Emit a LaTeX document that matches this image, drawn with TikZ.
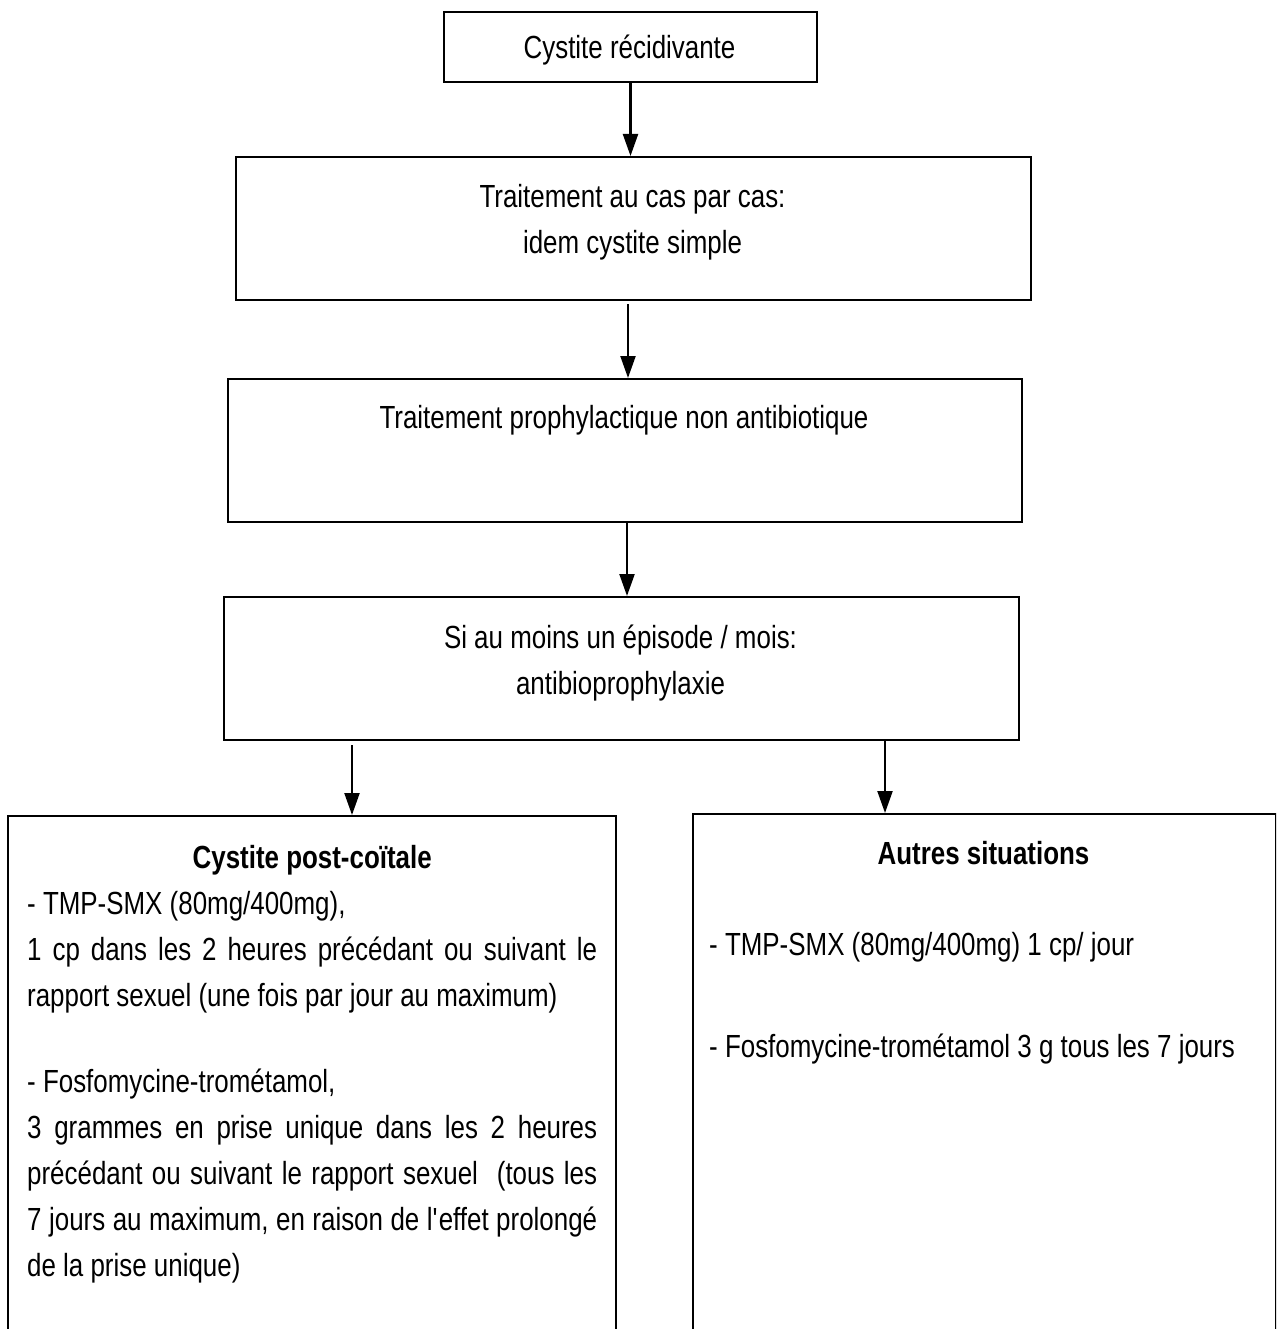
\documentclass[tikz,border=0pt]{standalone}
\usepackage{fontspec}
\setmainfont{Liberation Sans}[FakeStretch=0.81]
\usetikzlibrary{arrows.meta}
% fixed first-line height so that node tops sit at a known distance above the baseline
\newcommand\lnstrut{\rule{0pt}{24pt}}
% condensed text with matching interword glue
\newcommand\boxfont{\fontsize{32}{46}\selectfont\frenchspacing
  \spaceskip=7.2pt plus 6pt minus 1.5pt\relax}
\begin{document}
\begin{tikzpicture}[x=1pt,y=-1pt,
  box/.style={draw=black, line width=2pt, rectangle, inner sep=0pt, anchor=north west},
  txt/.style={inner sep=0pt, anchor=north, align=center, font=\boxfont},
  body/.style={inner sep=0pt, anchor=north west, align=left, font=\boxfont},
  arr/.style={line width=2.2pt, -{Triangle[length=22pt,width=15pt]}},
]
\useasboundingbox (0,0) rectangle (1276,1329);
\fill[white] (0,0) rectangle (1276,1329);
\clip (0,0) rectangle (1276,1329);

% boxes
\node[box, minimum width=373pt, minimum height=70pt]  (b1) at (443,11) {};
\node[box, minimum width=795pt, minimum height=143pt] (b2) at (235,156) {};
\node[box, minimum width=794pt, minimum height=143pt] (b3) at (227,378) {};
\node[box, minimum width=795pt, minimum height=143pt] (b4) at (223,596) {};
\node[box, minimum width=608pt, minimum height=560pt] (b5) at (7,815) {};
\node[box, minimum width=583pt, minimum height=560pt] (b6) at (692,813) {};

% texts
\node[txt] (t1) at (629.5,34) {\lnstrut Cystite récidivante};
\node[txt] (t2) at (632.5,183) {\lnstrut Traitement au cas par cas:\\idem cystite simple};
\node[txt] (t3) at (624,404) {\lnstrut Traitement prophylactique non antibiotique};
\node[txt] (t4) at (620.5,624) {\lnstrut Si au moins un épisode / mois:\\antibioprophylaxie};

\node[body, align=justify, text width=570pt] (t5) at (27,844) {%
  \makebox[570pt][c]{\lnstrut\bfseries Cystite post-coïtale}\\
  - TMP-SMX (80mg/400mg),\\
  \makebox[570pt][s]{1 cp dans les 2 heures précédant ou suivant le}\\
  rapport sexuel (une fois par jour au maximum)\\[40pt]
  - Fosfomycine-trométamol,\\
  \makebox[570pt][s]{3 grammes en prise unique dans les 2 heures}\\
  \makebox[570pt][s]{précédant ou suivant le rapport sexuel \ (tous les}\\
  \makebox[570pt][s]{7 jours au maximum, en raison de l\textquotesingle effet prolongé}\\
  de la prise unique)};

\node[txt, font=\boxfont\bfseries] (t6) at (983.5,840) {\lnstrut Autres situations};
\node[body] (t7) at (709,931) {\lnstrut - TMP-SMX (80mg/400mg) 1 cp/ jour\\[56pt]
  - Fosfomycine-trométamol 3 g tous les 7 jours};

% connectors
\coordinate (s2) at (628,304);
\coordinate (s3) at (627,521);
\coordinate (sl) at (352,745);
\coordinate (sr) at (885,740);
\draw[arr] (b1.south) -- (b1.south |- b2.north);
\draw[arr] (s2) -- (s2 |- b3.north);
\draw[arr] (s3) -- (s3 |- b4.north);
\draw[arr] (sl) -- (sl |- b5.north);
\draw[arr] (sr) -- (sr |- b6.north);
\end{tikzpicture}
\end{document}
